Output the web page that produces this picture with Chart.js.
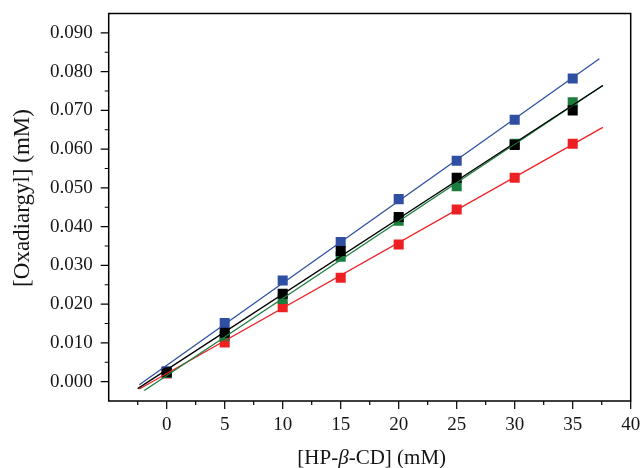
<!DOCTYPE html>
<html>
<head>
<meta charset="utf-8">
<script src="https://cdn.jsdelivr.net/npm/chart.js@4.4.1/dist/chart.umd.min.js"></script>
<style>
  html, body { margin: 0; padding: 0; background: #ffffff; }
  #wrap { width: 641px; height: 468px; position: relative; }
</style>
</head>
<body>
<div id="wrap"><canvas id="c"></canvas></div>
<script>
// ---- data ----
const xValues = [0, 5, 10, 15, 20, 25, 30, 35];
const blueValues  = [0.0027, 0.0151, 0.0261, 0.0360, 0.0471, 0.0570, 0.0676, 0.0782];
const blackValues = [0.0024, 0.0126, 0.0227, 0.0337, 0.0425, 0.0526, 0.0611, 0.0700];
const greenValues = [0.0022, 0.0117, 0.0213, 0.0322, 0.0415, 0.0504, 0.0614, 0.0721];
const redValues   = [0.0021, 0.0101, 0.0192, 0.0268, 0.0354, 0.0444, 0.0526, 0.0614];

// fitted lines (end points)
const blueFitX  = [-2.36, 37.3];  const blueFitY  = [-0.0008, 0.0833];
const blackFitX = [-2.5, 37.6];   const blackFitY = [-0.0018, 0.0764];
const greenFitX = [-1.93, 37.6];  const greenFitY = [-0.0023, 0.0764];
const redFitX   = [-2.36, 37.6];  const redFitY   = [-0.0019, 0.0656];

const xTickLabels = ['0', '5', '10', '15', '20', '25', '30', '35', '40'];
const yTickLabels = ['0.000','0.010','0.020','0.030','0.040','0.050','0.060','0.070','0.080','0.090'];
const xTitleParts = [['[HP-', false], ['β', true], ['-CD] (mM)', false]];
const yTitle = '[Oxadiargyl] (mM)';

const COLORS = { blue: '#2f4fa2', black: '#000000', green: '#1b7e3e', red: '#ed2024' };
const FONT = '"Liberation Serif", "Times New Roman", serif';
const TEXT = '#151515';

function pts(xs, ys) { return xs.map((x, i) => ({ x: x, y: ys[i] })); }

function lineSet(xs, ys, color) {
  return { type: 'line', data: pts(xs, ys), borderColor: color, borderWidth: 1.3,
           pointRadius: 0, showLine: true, fill: false, tension: 0 };
}
function markerSet(ys, color) {
  return { type: 'scatter', data: pts(xValues, ys), backgroundColor: color, borderColor: color,
           borderWidth: 0, pointStyle: 'rect', pointRadius: 7.1, showLine: false };
}

function noPad(s) { s.paddingLeft = 0; s.paddingRight = 0; s.paddingTop = 0; s.paddingBottom = 0; }

const framePlugin = {
  id: 'frame',
  afterDraw(chart) {
    const ctx = chart.ctx, a = chart.chartArea;
    const xs = chart.scales.x, ys = chart.scales.y;
    ctx.save();
    ctx.strokeStyle = '#000'; ctx.lineWidth = 1.5;
    ctx.strokeRect(a.left, a.top, a.right - a.left, a.bottom - a.top);
    ctx.lineWidth = 1.2;
    ctx.beginPath();
    for (let i = -1; i <= 16; i++) {
      const v = i * 2.5;
      const px = xs.getPixelForValue(v);
      const len = (i % 2 === 0) ? 8 : 4;
      ctx.moveTo(px, a.bottom); ctx.lineTo(px, a.bottom + len);
    }
    for (let i = 0; i <= 18; i++) {
      const v = i * 0.005;
      const py = ys.getPixelForValue(v);
      const len = (i % 2 === 0) ? 8 : 4;
      ctx.moveTo(a.left, py); ctx.lineTo(a.left - len, py);
    }
    ctx.stroke();
    // axis titles
    ctx.fillStyle = TEXT;
    ctx.textBaseline = 'middle';
    let total = 0;
    const measure = xTitleParts.map(([t, it]) => {
      ctx.font = (it ? 'italic ' : '') + '21px ' + FONT;
      const w = ctx.measureText(t).width; total += w; return w;
    });
    let x0 = (a.left + a.right) / 2 + 2 - total / 2;
    xTitleParts.forEach(([t, it], i) => {
      ctx.font = (it ? 'italic ' : '') + '21px ' + FONT;
      ctx.textAlign = 'left';
      ctx.fillText(t, x0, 458);
      x0 += measure[i];
    });
    ctx.translate(23, 198);
    ctx.rotate(-Math.PI / 2);
    ctx.font = '23px ' + FONT;
    ctx.textAlign = 'center';
    ctx.fillText(yTitle, 0, 0);
    ctx.restore();
  }
};

new Chart(document.getElementById('c'), {
  data: {
    datasets: [
      lineSet(blackFitX, blackFitY, COLORS.black),
      lineSet(greenFitX, greenFitY, COLORS.green),
      lineSet(blueFitX, blueFitY, COLORS.blue),
      lineSet(redFitX, redFitY, COLORS.red),
      markerSet(blackValues, COLORS.black),
      markerSet(blueValues, COLORS.blue),
      markerSet(greenValues, COLORS.green),
      markerSet(redValues, COLORS.red)
    ]
  },
  options: {
    responsive: true,
    maintainAspectRatio: false,
    animation: false,
    layout: { padding: { left: 0, top: 13.5, right: 10.3, bottom: 0 } },
    plugins: { legend: { display: false }, tooltip: { enabled: false } },
    scales: {
      x: {
        type: 'linear', min: -5, max: 40,
        border: { display: false },
        grid: { display: false, drawTicks: true, tickLength: 8 },
        ticks: {
          stepSize: 5, autoSkip: false, maxRotation: 0, padding: 5,
          color: TEXT, font: { family: FONT, size: 19 },
          callback: (v) => { const i = Math.round(v / 5); return (i >= 0 && i < xTickLabels.length) ? xTickLabels[i] : ''; }
        },
        afterFit: (s) => { s.height = 67; noPad(s); }
      },
      y: {
        type: 'linear', min: -0.005, max: 0.095,
        border: { display: false },
        grid: { display: false, drawTicks: true, tickLength: 8 },
        ticks: {
          stepSize: 0.005, autoSkip: false, padding: 8,
          color: TEXT, font: { family: FONT, size: 19 },
          callback: (v) => { const i = Math.round(v / 0.01); return (i >= 0 && i < yTickLabels.length && Math.abs(v - i * 0.01) < 1e-6) ? yTickLabels[i] : ''; }
        },
        afterFit: (s) => { s.width = 108.7; noPad(s); }
      }
    }
  },
  plugins: [framePlugin]
});
</script>
</body>
</html>
